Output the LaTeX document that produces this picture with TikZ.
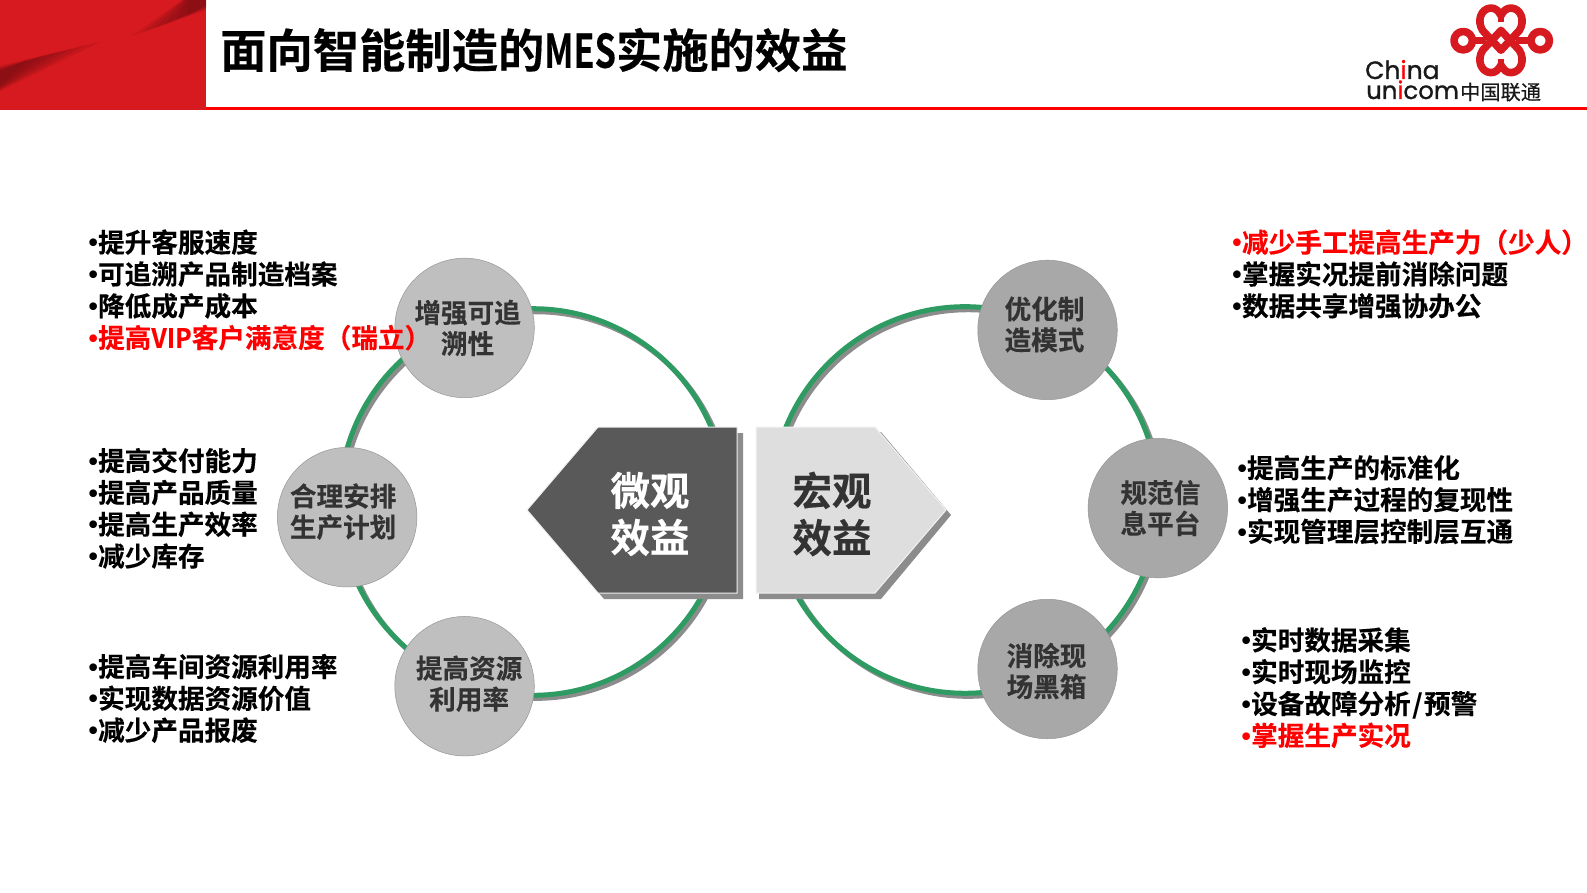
\documentclass[tikz,border=0pt]{standalone}
\usepackage{fontspec}
\usepackage{graphicx}
\setmainfont{Noto Sans CJK SC}[BoldFont={Noto Sans CJK SC Bold},BoldFeatures={FakeBold=0.3}]
\newfontfamily\logofont{Liberation Sans}
\newfontfamily\logotxt{Poppins}[FakeBold=1]
\newfontfamily\logocjk{Noto Sans CJK SC}[FakeBold=0.5]
\usetikzlibrary{calc}
\definecolor{hdrred}{HTML}{D71920}
\definecolor{arcgreen}{HTML}{2E9B62}
\definecolor{bubblelight}{HTML}{BFBFBF}
\definecolor{bubbledark}{HTML}{A8A8A8}
\definecolor{nodeedge}{HTML}{969696}
\definecolor{darktxt}{HTML}{333333}
\newcommand{\hw}[2][0.86]{\scalebox{#1}[1]{#2}}
\newcommand{\bl}{\makebox[9.6pt][l]{\raisebox{0.5pt}{\logofont\bfseries •}}}
\tikzset{
  ring/.style={draw=arcgreen,line width=5pt},
  ringshadow/.style={draw=gray!90,line width=5pt},
  bubble/.style={circle,minimum size=139.5pt,inner sep=0pt,draw=nodeedge,line width=.5pt},
  bubbletxt/.style={inner sep=0pt,align=center,text=darktxt,
     font=\fontsize{26.6pt}{31pt}\selectfont\bfseries},
  listing/.style={anchor=north west,inner sep=0pt,align=left,text=black,
     font=\fontsize{26.6pt}{31.8pt}\selectfont\bfseries},
  bigtxt/.style={inner sep=0pt,align=center,font=\fontsize{39.5pt}{47pt}\selectfont\bfseries},
  knot/.style={draw=hdrred,line width=7.6pt,line join=round,line cap=round}
}
\begin{document}
\begin{tikzpicture}[x=1pt,y=-1pt]
\useasboundingbox (0,0) rectangle (1587,892);
\fill[white] (0,0) rectangle (1587,892);
% header
\begin{scope}
\clip (0,0) rectangle (206,110);
\fill[hdrred] (0,0) rectangle (206,110);
\foreach \k in {0,1,2,3,4,5}{
  \fill[black!60!hdrred,opacity=.13] (0,{66+\k}) -- (0,{91-\k}) -- ({100-\k*14},{42+\k*3.2}) -- cycle;
  \fill[black!60!hdrred,opacity=.13] (206,{-4+\k}) -- (206,{10-\k}) -- ({132+\k*11},{36-\k*4}) -- (188,-4) -- cycle;
}
\end{scope}
\draw[red,line width=3pt] (206,108.5) -- (1587,108.5);
\node[anchor=west,inner sep=0pt,font=\fontsize{46.3pt}{50pt}\selectfont\bfseries,text=black] (title) at (220,50) {面向智能制造的\hw[0.74]{MES}实施的效益};
% logo knot
\begin{scope}[x=.3667pt,y=-.34pt,xshift=1435.7pt,yshift=.8pt]
\draw[knot] (178,150) -- (128,92) .. controls (112,65) and (122,28) .. (150,26) .. controls (162,25) and (172,35) .. (178,48) .. controls (184,35) and (194,25) .. (206,26) .. controls (234,28) and (244,65) .. (228,92) -- (178,150);
\draw[knot] (178,92) -- (128,150) .. controls (112,177) and (122,214) .. (150,216) .. controls (162,217) and (172,207) .. (178,194) .. controls (184,207) and (194,217) .. (206,216) .. controls (234,214) and (244,177) .. (228,150) -- (178,92);
\draw[knot] (75,122) circle[radius=9.2pt];
\draw[knot] (285,122) circle[radius=9.2pt];
\draw[knot,line cap=butt] (100,122) -- (136,122);
\draw[knot,line cap=butt] (220,122) -- (260,122);
\draw[hdrred,line width=5.5pt] (178,52) -- (178,66);
\draw[hdrred,line width=5.5pt] (178,176) -- (178,190);
\end{scope}
% logo text
\begin{scope}[x=.3333pt,y=-.3333pt,xshift=1440pt]
\node[anchor=base west,inner sep=0pt,font=\fontsize{25pt}{25pt}\logotxt,text=black!90] (china) at (-225,237) {Ch\textcolor{red}{i}na};
\node[anchor=base west,inner sep=0pt,font=\fontsize{24.4pt}{25pt}\logotxt,text=black!90] (unicom) at (-222,297) {un\textcolor{red}{i}com};
\node[anchor=west,inner sep=0pt,font=\fontsize{20.2pt}{20pt}\logocjk,text=black!90] (cn) at (60,276) {中国联通};
\end{scope}
% display-coordinate scope
\begin{scope}[x=1.0121pt,y=-1.0121pt]
\coordinate (lc) at (526.5,496);
\coordinate (rc) at (953.5,494);
\draw[ringshadow] ($(lc)+(3,3)$) circle[radius=193.3pt];
\draw[ringshadow] ($(rc)+(3,3)$) circle[radius=193.3pt];
\draw[ring] (lc) circle[radius=193.3pt];
\draw[ring] (rc) circle[radius=193.3pt];
% bubbles
\node[bubble,fill=bubblelight] (n1) at (459,324) {};
\node[bubble,fill=bubblelight] (n2) at (343,511) {};
\node[bubble,fill=bubblelight] (n3) at (459,678) {};
\node[bubble,fill=bubbledark] (n4) at (1035,326) {};
\node[bubble,fill=bubbledark] (n5) at (1144,502) {};
\node[bubble,fill=bubbledark] (n6) at (1035,661) {};
\node[bubbletxt] (t1) at (462,324) {增强可追\\溯性};
\node[bubbletxt] (t2) at (339,505.5) {合理安排\\生产计划};
\node[bubbletxt] (t3) at (463.5,675.5) {提高资源\\利用率};
\node[bubbletxt] (t4) at (1032,320.5) {优化制\\造模式};
\node[bubbletxt] (t5) at (1146.5,502) {规范信\\息平台};
\node[bubbletxt] (t6) at (1034,663) {消除现\\场黑箱};
% lists
\node[listing] (l1) at (87.3,226.5) {\bl 提升客服速度\\\bl 可追溯产品制造档案\\\bl 降低成产成本\\\textcolor{red}{\bl 提高\hw[0.94]{VIP}客户满意度（瑞立）}};
\node[listing] (l2) at (87.3,442.3) {\bl 提高交付能力\\\bl 提高产品质量\\\bl 提高生产效率\\\bl 减少库存};
\node[listing] (l3) at (87.3,645.8) {\bl 提高车间资源利用率\\\bl 实现数据资源价值\\\bl 减少产品报废};
\node[listing] (r1) at (1217.5,226.5) {\textcolor{red}{\bl 减少手工提高生产力（少人）}\\\bl 掌握实况提前消除问题\\\bl 数据共享增强协办公};
\node[listing] (r2) at (1222.5,449.5) {\bl 提高生产的标准化\\\bl 增强生产过程的复现性\\\bl 实现管理层控制层互通};
\node[listing] (r3) at (1226.5,619.5) {\bl 实时数据采集\\\bl 实时现场监控\\\bl 设备故障分析\makebox[13.3pt][c]{/}预警\\\textcolor{red}{\bl 掌握生产实况}};
\end{scope}
% pentagons (true pixel coordinates)
\fill[gray!90] (533,516) -- (604,433) -- (743,433) -- (743,599) -- (604,599) -- cycle;
\fill[gray!90] (759,599) -- (881,599) -- (951,515) -- (881,432) -- (760,432) -- cycle;
\draw[draw=white!90!gray,line width=1pt,fill=black!65] (527,510) -- (598,427) -- (737,427) -- (737,593) -- (598,593) -- cycle;
\draw[draw=white!90!gray,line width=1pt,fill=black!13] (756,427) -- (875,427) -- (946,510) -- (875,593) -- (756,593) -- cycle;
\node[bigtxt,text=white] (micro) at (650,514) {微观\\效益};
\node[bigtxt,text=darktxt] (macro) at (832,514) {宏观\\效益};
\end{tikzpicture}
\end{document}
